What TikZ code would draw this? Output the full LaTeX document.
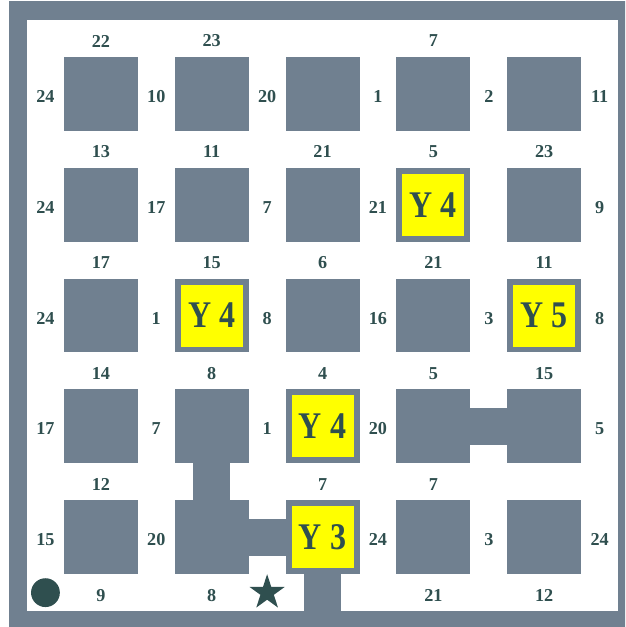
\documentclass[tikz,border=0pt]{standalone}
\usepackage{fontspec}
\setmainfont{Liberation Serif}
\usetikzlibrary{shapes.geometric}
\definecolor{wall}{HTML}{708090}
\definecolor{ink}{HTML}{2F4F4F}
\definecolor{goal}{HTML}{FFFF00}
\newcommand{\ylab}[1]{\raisebox{-2pt}{\scalebox{0.85}[1]{#1}}}
\tikzset{
  num/.style={font=\bfseries\fontsize{14}{15}\selectfont, text=ink, yshift=-2pt},
  tag/.style={fill=goal, minimum size=1.68cm, inner sep=0pt,
    font=\bfseries\fontsize{29}{30}\selectfont, text=ink},
}

\begin{document}
\begin{tikzpicture}[y=-1cm]
\useasboundingbox (-0.73,-0.54) rectangle (16.19,16.43);
\clip (-0.73,-0.54) rectangle (16.19,16.43);
\fill[wall] (-0.49,-0.51) rectangle (17,17);
\fill[white] (0,0) rectangle (16,16);
% blocks of the maze
\foreach \i in {0,...,4}
  \foreach \j in {0,...,4}
    \fill[wall] (1+3*\i,1+3*\j) rectangle +(2,2);
% walls joining blocks
\fill[wall] (4.5,12) rectangle (5.5,13);
\fill[wall] (6,13.5) rectangle (7,14.5);
\fill[wall] (7.5,15) rectangle (8.5,16);
\fill[wall] (12,10.5) rectangle (13,11.5);

% costs on the horizontal streets
\foreach \x/\lab in {0/22,1/23,3/7}
  \node[num] (h0-\x) at (2+3*\x,0.5) {\lab};
\foreach \x/\lab in {0/13,1/11,2/21,3/5,4/23}
  \node[num] (h1-\x) at (2+3*\x,3.5) {\lab};
\foreach \x/\lab in {0/17,1/15,2/6,3/21,4/11}
  \node[num] (h2-\x) at (2+3*\x,6.5) {\lab};
\foreach \x/\lab in {0/14,1/8,2/4,3/5,4/15}
  \node[num] (h3-\x) at (2+3*\x,9.5) {\lab};
\foreach \x/\lab in {0/12,2/7,3/7}
  \node[num] (h4-\x) at (2+3*\x,12.5) {\lab};
\foreach \x/\lab in {0/9,1/8,3/21,4/12}
  \node[num] (h5-\x) at (2+3*\x,15.5) {\lab};

% costs on the vertical streets
\foreach \x/\lab in {0/24,1/10,2/20,3/1,4/2,5/11}
  \node[num] (v0-\x) at (0.5+3*\x,2) {\lab};
\foreach \x/\lab in {0/24,1/17,2/7,3/21,5/9}
  \node[num] (v1-\x) at (0.5+3*\x,5) {\lab};
\foreach \x/\lab in {0/24,1/1,2/8,3/16,4/3,5/8}
  \node[num] (v2-\x) at (0.5+3*\x,8) {\lab};
\foreach \x/\lab in {0/17,1/7,2/1,3/20,5/5}
  \node[num] (v3-\x) at (0.5+3*\x,11) {\lab};
\foreach \x/\lab in {0/15,1/20,3/24,4/3,5/24}
  \node[num] (v4-\x) at (0.5+3*\x,14) {\lab};

% yellow targets
\node[tag] (y-31) at (11,5) {\ylab{Y 4}};
\node[tag] (y-12) at (5,8) {\ylab{Y 4}};
\node[tag] (y-42) at (14,8) {\ylab{Y 5}};
\node[tag] (y-23) at (8,11) {\ylab{Y 4}};
\node[tag] (y-24) at (8,14) {\ylab{Y 3}};

% start and goal
\node[circle, fill=ink, minimum size=0.78cm, inner sep=0pt] (start) at (0.5,15.5) {};
\node[star, star points=5, star point ratio=2.618, fill=ink,
  minimum size=1cm, inner sep=0pt] (finish) at (6.5,15.5) {};
\end{tikzpicture}
\end{document}
